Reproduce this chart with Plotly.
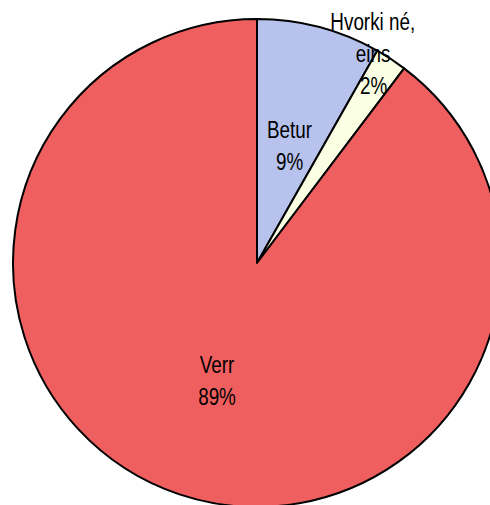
import plotly.graph_objects as go

# Data
categories = ["Betur", "Hvorki né, eins", "Verr"]
values = [8.2, 2.1, 89.7]
pct_labels = ["9%", "2%", "89%"]
colors = ["#B7C3EC", "#FBFFE4", "#EF5F5F"]

# Label text lines per slice
label_lines = [["Betur", "9%"], ["Hvorki né,", "eins", "2%"], ["Verr", "89%"]]
# pixel centre of the first line of each label, and line step (px)
label_px = [(289, 130), (373, 22), (217, 365)]
line_step_px = 32

W, H = 502, 508
ML, MT, MR, MB = 13, 19, 1, 1
PW, PH = W - ML - MR, H - MT - MB


def to_paper(px, py):
    return (px - ML) / PW, 1 - (py - MT) / PH


fig = go.Figure(go.Pie(
    labels=categories,
    values=values,
    sort=False,
    direction="clockwise",
    rotation=0,
    marker=dict(colors=colors, line=dict(color="black", width=2)),
    textinfo="none",
    hoverinfo="label+percent",
    showlegend=False,
))

font = dict(family="Liberation Sans Narrow, Arial Narrow, Liberation Sans, Arial, sans-serif",
            size=23, color="black")
anns = []
for lines, (px, py) in zip(label_lines, label_px):
    for i, t in enumerate(lines):
        x, y = to_paper(px, py + i * line_step_px)
        anns.append(dict(x=x, y=y, xref="paper", yref="paper",
                         text=t, showarrow=False, font=font,
                         xanchor="center", yanchor="middle"))

fig.update_layout(
    width=W, height=H,
    margin=dict(l=ML, r=MR, t=MT, b=MB),
    paper_bgcolor="white",
    plot_bgcolor="white",
    annotations=anns,
)

post = (
    "document.body.style.margin='0';document.body.style.overflow='hidden';"
    "document.querySelectorAll('.annotation-text').forEach(function(e){"
    "e.style.transformBox='fill-box';e.style.transformOrigin='center';e.style.transform='scaleX(0.82)';});"
)
fig.write_html("out.html", config={"displayModeBar": False}, post_script=post)
